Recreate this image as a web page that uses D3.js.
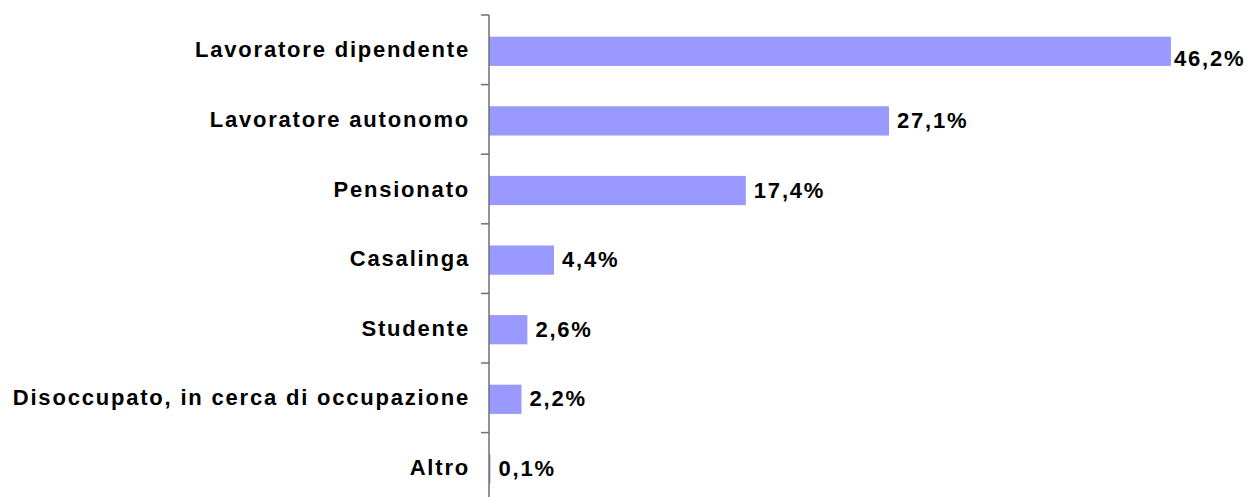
<!DOCTYPE html>
<html>
<head>
<meta charset="utf-8">
<script src="https://cdn.jsdelivr.net/npm/d3@7"></script>
<style>
  body { margin: 0; background: #fff; }
  text { font-family: "Liberation Sans", Arial, sans-serif; font-weight: bold; }
</style>
</head>
<body>
<svg width="1248" height="497"></svg>
<script>
var svg = d3.select('svg');
var svgWidth = +svg.attr('width');
var svgHeight = +svg.attr('height');

// categories, top to bottom
var categories = ["Lavoratore dipendente", "Lavoratore autonomo", "Pensionato", "Casalinga",
                  "Studente", "Disoccupato, in cerca di occupazione", "Altro"];
// percentages
var values = [46.2, 27.1, 17.4, 4.4, 2.6, 2.2, 0.1];
var valueLabels = ["46,2%", "27,1%", "17,4%", "4,4%", "2,6%", "2,2%", "0,1%"];

var axisX = 489;

var x = d3.scaleLinear()
  .domain([0, 50])
  .range([axisX, axisX + 738]);

var y = d3.scaleBand()
  .domain(categories)
  .range([15, 15 + 69.6 * categories.length])
  .paddingInner(0.58)
  .paddingOuter(0.29);

// bars
svg.append("g")
  .selectAll("rect")
  .data(categories)
  .join("rect")
    .attr("x", x(0))
    .attr("y", d => y(d) + 1.5)
    .attr("width", (d, i) => x(values[i]) - x(0))
    .attr("height", y.bandwidth())
    .attr("fill", "#9999ff");

// axis line with ticks between categories
var ticksG = svg.append("g").attr("stroke", "#6f6f6f").attr("stroke-width", 1.5);
ticksG.append("line")
  .attr("x1", axisX).attr("x2", axisX)
  .attr("y1", y.range()[0]).attr("y2", y.range()[1]);
var tickPos = d3.range(categories.length + 1).map(i => y.range()[0] + i * y.step());
ticksG.selectAll(".tick")
  .data(tickPos)
  .join("line")
    .attr("class", "tick")
    .attr("x1", axisX - 8).attr("x2", axisX)
    .attr("y1", d => d).attr("y2", d => d);

// category labels
svg.append("g")
  .selectAll("text")
  .data(categories)
  .join("text")
    .attr("x", 470)
    .attr("y", d => y(d) + y.bandwidth() / 2)
    .attr("text-anchor", "end")
    .attr("dominant-baseline", "central")
    .attr("font-size", 22)
    .attr("letter-spacing", 1.8)
    .attr("fill", "#000")
    .text(d => d);

// value labels (largest one sits a bit lower and closer, as in the original)
var maxVal = d3.max(values);
svg.append("g")
  .selectAll("text")
  .data(categories)
  .join("text")
    .attr("x", (d, i) => x(values[i]) + (values[i] === maxVal ? 3 : 8))
    .attr("y", (d, i) => y(d) + y.bandwidth() / 2 + 1 + (values[i] === maxVal ? 8 : 0))
    .attr("dominant-baseline", "central")
    .attr("font-size", 22)
    .attr("letter-spacing", 1.8)
    .attr("fill", "#000")
    .text((d, i) => valueLabels[i]);
</script>
</body>
</html>
